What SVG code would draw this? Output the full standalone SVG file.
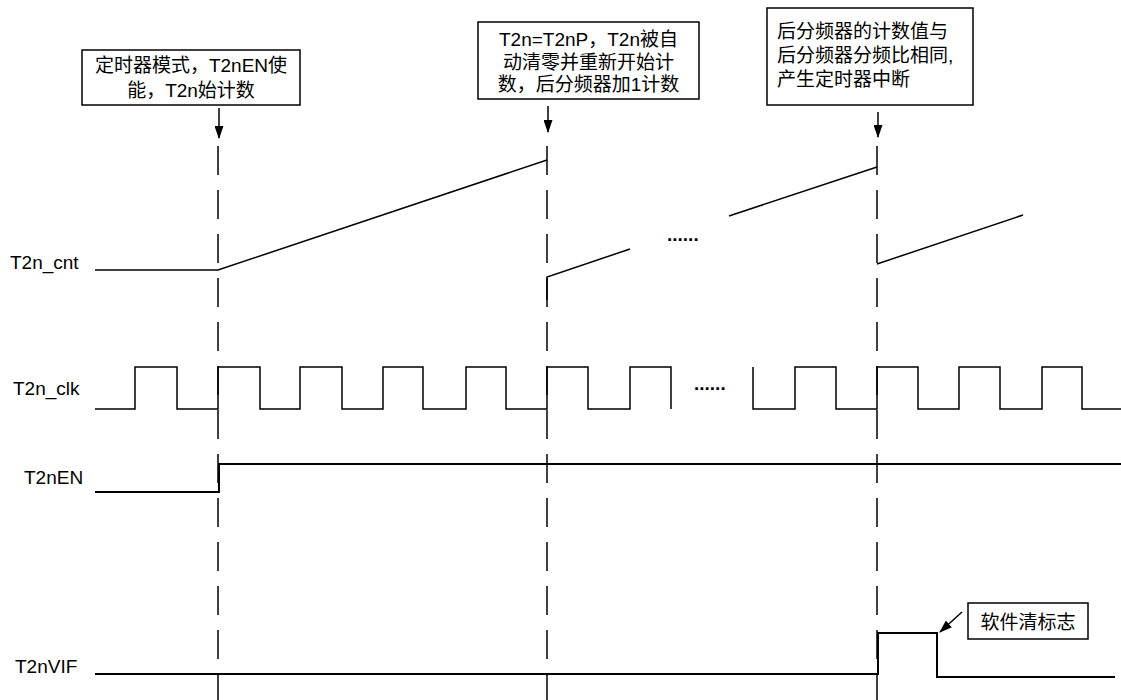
<svg xmlns="http://www.w3.org/2000/svg" width="1121" height="700" viewBox="0 0 1121 700">
<style>
.bg{fill:#fff}
.sig{fill:none;stroke:#000;stroke-width:1.5}
.dash{fill:none;stroke:#000;stroke-width:1.5;stroke-dasharray:29 15}
.box{fill:#fff;stroke:#000;stroke-width:1.5}
.lbl{font-family:"Liberation Sans",Arial,sans-serif;font-size:19px;fill:#000}
.cj{font-family:"Liberation Sans","Noto Sans CJK SC",sans-serif;font-size:19px;fill:#000}
.dots{font-family:"Liberation Sans",Arial,sans-serif;font-size:19px;font-weight:bold;fill:#000}
.arr{fill:none;stroke:#000;stroke-width:1.5}
</style>
<defs>
<marker id="ah2" viewBox="0 0 13 9" refX="12" refY="4.5" markerWidth="13" markerHeight="9" markerUnits="userSpaceOnUse" orient="auto">
<path d="M0,0 L13,4.5 L0,9 z" fill="#000"/>
</marker>
</defs>
<rect class="bg" x="0" y="0" width="1121" height="700"/>

<g id="connectors">
<line class="dash" x1="218" y1="146" x2="218" y2="700"/>
<line class="dash" x1="547" y1="146" x2="547" y2="700"/>
<line class="dash" x1="877" y1="146" x2="877" y2="700"/>
<line class="arr" x1="219" y1="108" x2="219" y2="138" marker-end="url(#ah2)"/>
<line class="arr" x1="548" y1="106" x2="548" y2="132" marker-end="url(#ah2)"/>
<line class="arr" x1="878" y1="112" x2="878" y2="137" marker-end="url(#ah2)"/>
<line class="arr" x1="962" y1="612" x2="940" y2="632" marker-end="url(#ah2)"/>
</g>

<g id="box1">
<rect class="box" x="82" y="50" width="218" height="55"/>
<text class="cj" x="191" y="71.5" text-anchor="middle">定时器模式，T2nEN使</text>
<text class="cj" x="191" y="96.5" text-anchor="middle">能，T2n始计数</text>
</g>

<g id="box2">
<rect class="box" x="478" y="22" width="221" height="77"/>
<text class="cj" x="588.5" y="46" text-anchor="middle">T2n=T2nP，T2n被自</text>
<text class="cj" x="588.5" y="68.5" text-anchor="middle">动清零并重新开始计</text>
<text class="cj" x="588.5" y="91" text-anchor="middle">数，后分频器加1计数</text>
</g>

<g id="box3">
<rect class="box" x="767" y="8" width="206" height="97"/>
<text class="cj" x="777" y="38">后分频器的计数值与</text>
<text class="cj" x="777" y="62">后分频器分频比相同,</text>
<text class="cj" x="777" y="86">产生定时器中断</text>
</g>

<g id="box4">
<rect class="box" x="968" y="603" width="120" height="36"/>
<text class="cj" x="1028" y="629" text-anchor="middle">软件清标志</text>
</g>

<g id="sig-cnt">
<text class="lbl" x="10" y="269">T2n_cnt</text>
<polyline class="sig" points="95,270 218,270 547,160"/>
<polyline class="sig" points="547,300 547,277 630,249"/>
<line class="sig" x1="729" y1="216" x2="877" y2="167"/>
<line class="sig" x1="877" y1="264" x2="1023" y2="215"/>
<text class="dots" x="667" y="241">......</text>
</g>

<g id="sig-clk">
<text class="lbl" x="13" y="395">T2n_clk</text>
<path class="sig" d="M95,409 H135 V367 H177 V409 H218 V367 H260 V409 H300 V367 H342 V409 H383 V367 H423 V409 H466 V367 H506 V409 H547 V367 H588 V409 H630 V367 H671 V409"/>
<path class="sig" d="M753,367 V409 H795 V367 H836 V409 H877 V367 H918 V409 H959 V367 H1000 V409 H1042 V367 H1082 V409 H1121"/>
<text class="dots" x="694" y="390">......</text>
</g>

<g id="sig-en">
<text class="lbl" x="24" y="484">T2nEN</text>
<path class="sig" d="M95,492 H219 V464 H1121" style="stroke-width:2"/>
</g>

<g id="sig-vif">
<text class="lbl" x="15" y="673">T2nVIF</text>
<path class="sig" d="M95,674 H878 V633 H937 V677 H1115" style="stroke-width:2"/>
</g>
</svg>
